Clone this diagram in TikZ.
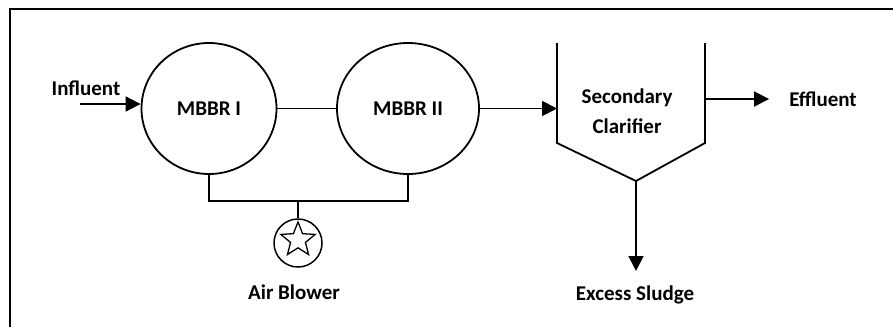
\documentclass[tikz,border=0pt]{standalone}
\usepackage{fontspec}
\setmainfont{Carlito}
\usetikzlibrary{arrows.meta,shapes.geometric}

\tikzset{
  lbl/.style={font=\bfseries\fontsize{21}{25}\selectfont, inner sep=0pt},
  tank/.style={draw, ellipse, line width=1.8pt, inner sep=0pt, font=\bfseries\fontsize{21}{25}\selectfont},
  pipe/.style={line width=1.8pt},
  flow/.style={line width=1.8pt, -{Triangle[length=15pt,width=15pt]}},
}

\begin{document}
\begin{tikzpicture}[x=1pt,y=-1pt]
  \useasboundingbox (0,0) rectangle (893,327);
  % frame
  \draw[line width=2.5pt] (10,327) -- (10,9) -- (893,9);

  % reactors
  \node[tank, minimum width=135pt, minimum height=131pt] (mbbr1) at (209,108.5) {MBBR I};
  \node[tank, minimum width=142pt, minimum height=131pt] (mbbr2) at (408,108.5) {MBBR II};
  \draw[pipe] (mbbr1) -- (mbbr2);

  % influent
  \coordinate (inflow) at (80,104);
  \node[lbl] (influent) at (86,88) {Influent};
  \draw[flow] (inflow) -- (inflow -| mbbr1.west);

  % air blower
  \node[draw, circle, line width=1.5pt, minimum size=48pt, inner sep=0pt] (blower) at (298,243) {};
  \node[draw, star, star points=5, star point ratio=2.3, minimum size=36pt, inner sep=0pt, line width=1.3pt] (fan) at (298,240) {};
  \node[lbl] (air) at (294,292) {Air Blower};
  \coordinate (junct) at (298,200);
  \draw[pipe] (mbbr1.south) -- ++(0,26) -| (mbbr2.south);
  \draw[pipe] (junct) -- (blower.north);

  % clarifier
  \coordinate (clTL) at (557,43);
  \coordinate (clBL) at (557,143);
  \coordinate (clV) at (636,181);
  \coordinate (clBR) at (705,143);
  \coordinate (clTR) at (705,43);
  \draw[pipe] (clTL) -- (clBL) -- (clV) -- (clBR) -- (clTR);
  \node[lbl, align=center, font=\bfseries\fontsize{21}{30}\selectfont] (clar) at (627,111) {Secondary\\Clarifier};
  \draw[flow] (mbbr2) -- (mbbr2 -| clTL);

  % effluent
  \coordinate (effout) at (705,99);
  \node[lbl] (effluent) at (823,99) {Effluent};
  \draw[flow, shorten >=20pt] (effout) -- (effluent.west);

  % sludge
  \node[lbl] (sludge) at (635,295) {Excess Sludge};
  \draw[flow] (clV) -- (clV |- 0,271);
\end{tikzpicture}
\end{document}
